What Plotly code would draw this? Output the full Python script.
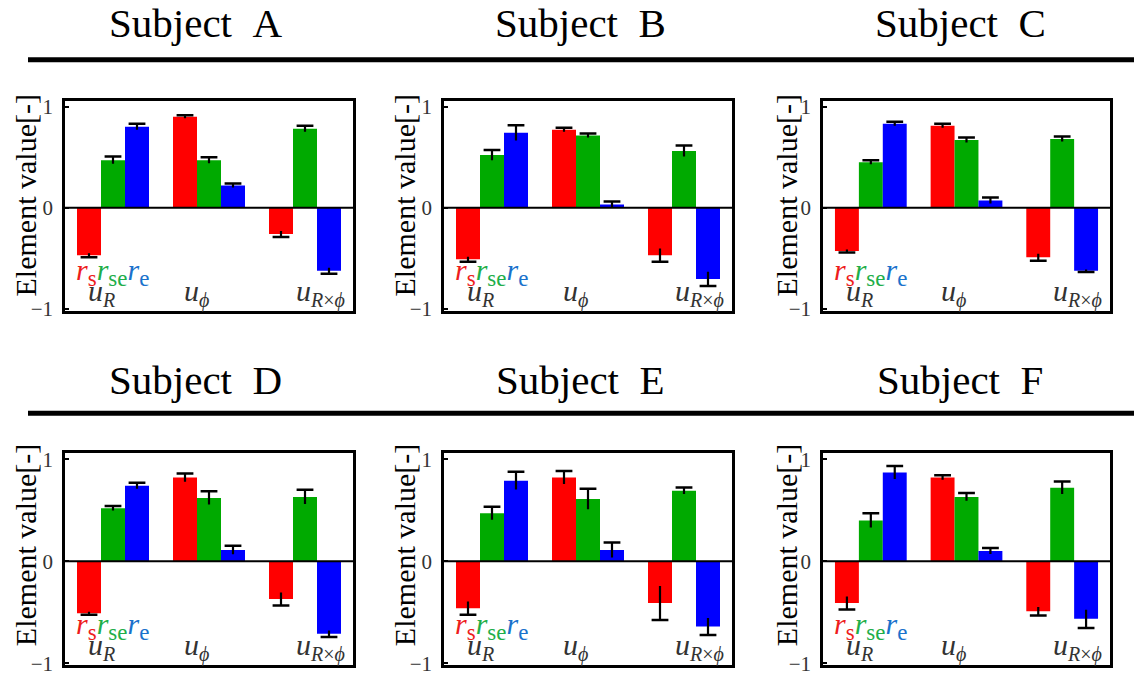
import numpy as np
import plotly.graph_objects as go

# ---------------- data ----------------
subjects = ["A", "B", "C", "D", "E", "F"]
categories = ["uR", "uphi", "uRxphi"]
series_names = ["r_s", "r_se", "r_e"]

# mean element values, one row per subject, columns = categories
rs_mean = [[-0.47, 0.90, -0.26],
           [-0.51, 0.77, -0.47],
           [-0.43, 0.81, -0.49],
           [-0.51, 0.82, -0.37],
           [-0.46, 0.82, -0.41],
           [-0.41, 0.82, -0.49]]
rse_mean = [[0.47, 0.47, 0.78],
            [0.52, 0.715, 0.56],
            [0.45, 0.67, 0.68],
            [0.52, 0.62, 0.63],
            [0.47, 0.61, 0.69],
            [0.40, 0.63, 0.72]]
re_mean = [[0.80, 0.22, -0.625],
           [0.74, 0.03, -0.705],
           [0.83, 0.07, -0.625],
           [0.74, 0.11, -0.71],
           [0.79, 0.11, -0.64],
           [0.87, 0.10, -0.565]]

# error-bar half lengths
rs_err = [[0.02, 0.015, 0.03],
          [0.025, 0.02, 0.065],
          [0.015, 0.02, 0.035],
          [0.015, 0.04, 0.064],
          [0.064, 0.064, 0.166],
          [0.064, 0.022, 0.042]]
rse_err = [[0.035, 0.03, 0.03],
           [0.05, 0.02, 0.055],
           [0.02, 0.025, 0.025],
           [0.022, 0.065, 0.07],
           [0.064, 0.10, 0.032],
           [0.07, 0.038, 0.061]]
re_err = [[0.03, 0.02, 0.03],
          [0.075, 0.03, 0.07],
          [0.02, 0.03, 0.012],
          [0.03, 0.042, 0.032],
          [0.087, 0.073, 0.083],
          [0.064, 0.03, 0.09]]

y_ticks = [-1, 0, 1]

# ---------------- style ----------------
W, H = 1134, 686
bar_colors = ["#ff0000", "#00aa00", "#0000ff"]
SERIF = "Liberation Serif, Times New Roman, serif"

# panel frames in pixels (left, right) and rows (top, bottom)
col_px = [(65, 353), (444, 732), (823, 1110)]
row_px = [(97, 312), (458, 675)]
title_x_px = [195, 580, 960]
title_y_px = [17, 383]
rule_y_px = [55, 417]
ytitle_x_px = [25, 404, 786]
ytitle_y_px = [194, 552]


def px_x(p):
    return p / W


def px_y(p):
    return 1 - p / H


def sub(txt, size=20):
    return f'<sub><span style="font-size:{size}px">{txt}</span></sub>'


fig = go.Figure()

means = [rs_mean, rse_mean, re_mean]
errs = [rs_err, rse_err, re_err]

annotations = []
shapes = []

r_label = ('<span style="color:#ee1c1c"><i>r</i>' + sub("s", 23) + '</span>'
           '<span style="color:#1fae4a"><i>r</i>' + sub("se", 23) + '</span>'
           '<span style="color:#1a72cc"><i>r</i>' + sub("e", 23) + '</span>')
u_labels = [(0.074, "<i>u</i>" + sub("<i>R</i>")),
            (0.405, "<i>u</i>" + sub("<i>\u03d5</i>")),
            (0.795, "<i>u</i>" + sub("<i>R</i>\u00d7<i>\u03d5</i>"))]

for i, subj in enumerate(subjects):
    r, c = divmod(i, 3)
    n = i + 1
    xa = "x" if n == 1 else f"x{n}"
    ya = "y" if n == 1 else f"y{n}"
    xkey = "xaxis" if n == 1 else f"xaxis{n}"
    ykey = "yaxis" if n == 1 else f"yaxis{n}"

    for s in range(3):
        vals = np.array(means[s][i], dtype=float)
        e = np.array(errs[s][i], dtype=float)
        fig.add_trace(go.Bar(
            x=categories, y=vals, xaxis=xa, yaxis=ya,
            marker=dict(color=bar_colors[s], line=dict(width=0)),
            error_y=dict(type="data", array=e, visible=True,
                         color="black", thickness=2.2, width=0),
            offsetgroup=str(s), alignmentgroup=f"g{n}",
            showlegend=False, name=series_names[s],
        ))
    for s in range(3):
        vals = np.array(means[s][i], dtype=float)
        e = np.array(errs[s][i], dtype=float)
        caps = vals + np.sign(vals) * e
        fig.add_trace(go.Scatter(
            x=categories, y=caps, xaxis=xa, yaxis=ya, mode="markers",
            marker=dict(symbol="line-ew", size=12, color="black",
                        line=dict(width=2.5, color="black")),
            offsetgroup=str(s), alignmentgroup=f"g{n}",
            showlegend=False, name=series_names[s] + " cap",
        ))

    x0, x1 = col_px[c]
    yt, yb = row_px[r]
    fig.layout[xkey] = dict(
        domain=[px_x(x0), px_x(x1)], anchor=ya,
        range=[-0.5, 2.5], type="category",
        showticklabels=False, ticks="", showgrid=False, zeroline=False,
        showline=True, mirror=True, linecolor="black", linewidth=2.5,
        fixedrange=True,
    )
    fig.layout[ykey] = dict(
        domain=[px_y(yb), px_y(yt)], anchor=xa,
        range=[-1.02, 1.058], tickvals=y_ticks,
        ticktext=["\u22121", "0", "1"],
        tickfont=dict(family=SERIF, size=21, color="#333333"),
        ticks="inside", ticklen=4, tickwidth=1.5, tickcolor="black",
        ticklabelstandoff=5,
        showgrid=False, zeroline=False,
        showline=True, mirror=True, linecolor="black", linewidth=2.5,
        fixedrange=True,
    )
    # zero reference line drawn above the bars
    shapes.append(dict(type="line", xref=f"{xa} domain", yref=ya,
                       x0=0, x1=1.008, y0=0, y1=0,
                       line=dict(color="black", width=2), layer="above"))

    # in-panel labels
    annotations.append(dict(
        xref=f"{xa} domain", yref=ya, x=0.03, y=-0.64,
        xanchor="left", yanchor="middle", showarrow=False,
        text=r_label, font=dict(family=SERIF, size=30),
    ))
    for xpos, txt in u_labels:
        annotations.append(dict(
            xref=f"{xa} domain", yref=ya, x=xpos, y=-0.84,
            xanchor="left", yanchor="middle", showarrow=False,
            text=txt, font=dict(family=SERIF, size=30, color="#333333"),
        ))

    # y-axis title
    annotations.append(dict(
        xref="paper", yref="paper",
        x=px_x(ytitle_x_px[c]), y=px_y(ytitle_y_px[r]),
        xanchor="center", yanchor="middle", showarrow=False,
        textangle=-90, text="Element value[-]",
        font=dict(family=SERIF, size=30, color="black"),
    ))

    # subject title
    annotations.append(dict(
        xref="paper", yref="paper",
        x=px_x(title_x_px[c]), y=px_y(title_y_px[r]),
        xanchor="center", yanchor="middle", showarrow=False,
        text=f"Subject\u00a0\u00a0{subj}",
        font=dict(family=SERIF, size=41, color="black"),
    ))

# thick horizontal rules under the title rows
for ry in rule_y_px:
    shapes.append(dict(type="line", xref="paper", yref="paper",
                       x0=px_x(28), x1=1.0, y0=px_y(ry), y1=px_y(ry),
                       line=dict(color="black", width=5)))

fig.update_layout(
    width=W, height=H,
    margin=dict(l=0, r=0, t=0, b=0),
    paper_bgcolor="white", plot_bgcolor="white",
    barmode="group", bargap=0.25, bargroupgap=0,
    scattermode="group", scattergap=0.25,
    showlegend=False,
    annotations=annotations, shapes=shapes,
)

fig.write_html("out.html")
